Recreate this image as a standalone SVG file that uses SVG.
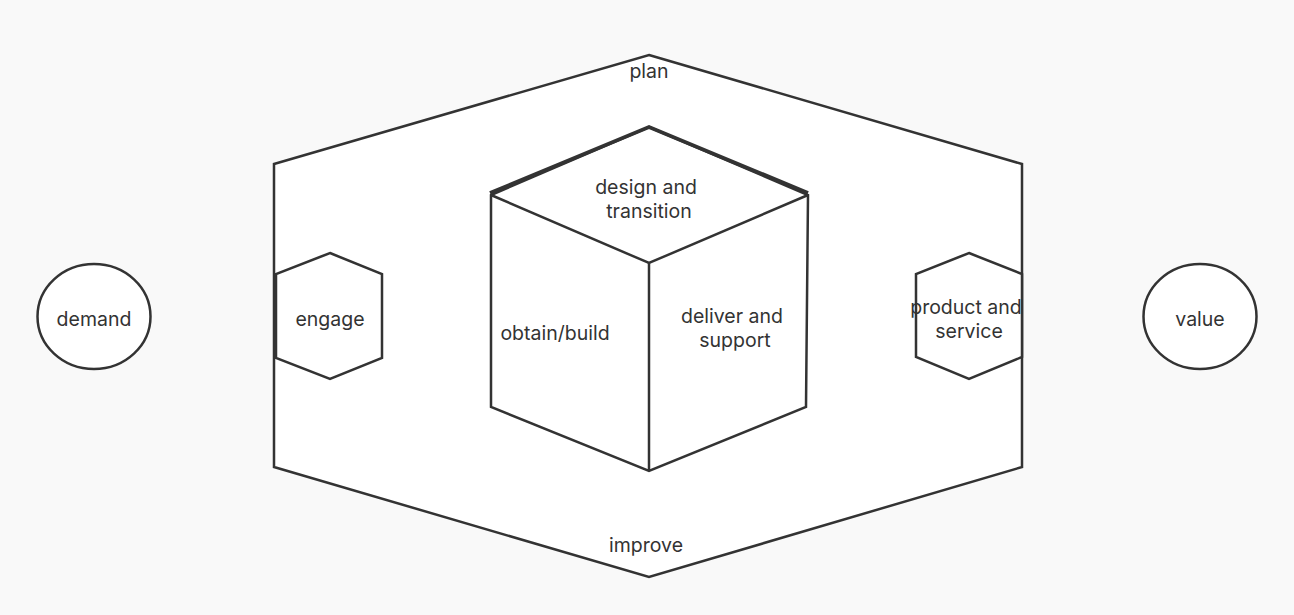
<svg xmlns="http://www.w3.org/2000/svg" width="1294" height="615" viewBox="0 0 1294 615">
<style>
.s{fill:#ffffff;stroke:#333333;stroke-width:2.5;stroke-linejoin:miter}
.l{fill:none;stroke:#333333;stroke-width:2.5}
.t{font-family:Inter,"Noto Sans",sans-serif;font-size:19.5px;fill:#333333;text-anchor:middle}
</style>
<rect x="0" y="0" width="1294" height="615" fill="#f9f9f9"/>
<g id="outer">
<polygon class="s" points="649,55 1022,164 1022,467 649,577 274,467 274,164"/>
<text class="t" x="649" y="78">plan</text>
<text class="t" x="646" y="552">improve</text>
</g>
<g id="demand">
<ellipse class="s" cx="94" cy="316.5" rx="56.5" ry="52.5"/>
<text class="t" x="94" y="326">demand</text>
</g>
<g id="value">
<ellipse class="s" cx="1200" cy="316.5" rx="56.5" ry="52.5"/>
<text class="t" x="1200" y="326">value</text>
</g>
<g id="engage">
<polygon class="s" points="330,253 382,274 382,358 330,379 276,358 276,274"/>
<text class="t" x="330" y="326">engage</text>
</g>
<g id="product">
<polygon class="s" points="969,253 1022,274 1022,357 969,379 916,357 916,274"/>
<text class="t"><tspan x="966" y="314">product and</tspan><tspan x="969" y="338">service</tspan></text>
</g>
<g id="cube">
<polygon class="s" points="649,127 808,195 806,407 649,471 491,407 491,195"/>
<polyline class="l" points="491,195 649,263 808,195"/>
<line class="l" x1="649" y1="263" x2="649" y2="471"/>
<polyline fill="none" stroke="#333333" stroke-width="3.8" points="490,193 649,127 808,193"/>
<text class="t"><tspan x="646" y="194">design and</tspan><tspan x="649" y="218">transition</tspan></text>
<text class="t" x="555" y="340">obtain/build</text>
<text class="t"><tspan x="732" y="323">deliver and</tspan><tspan x="735" y="347">support</tspan></text>
</g>
<g id="connectors"></g>
</svg>
